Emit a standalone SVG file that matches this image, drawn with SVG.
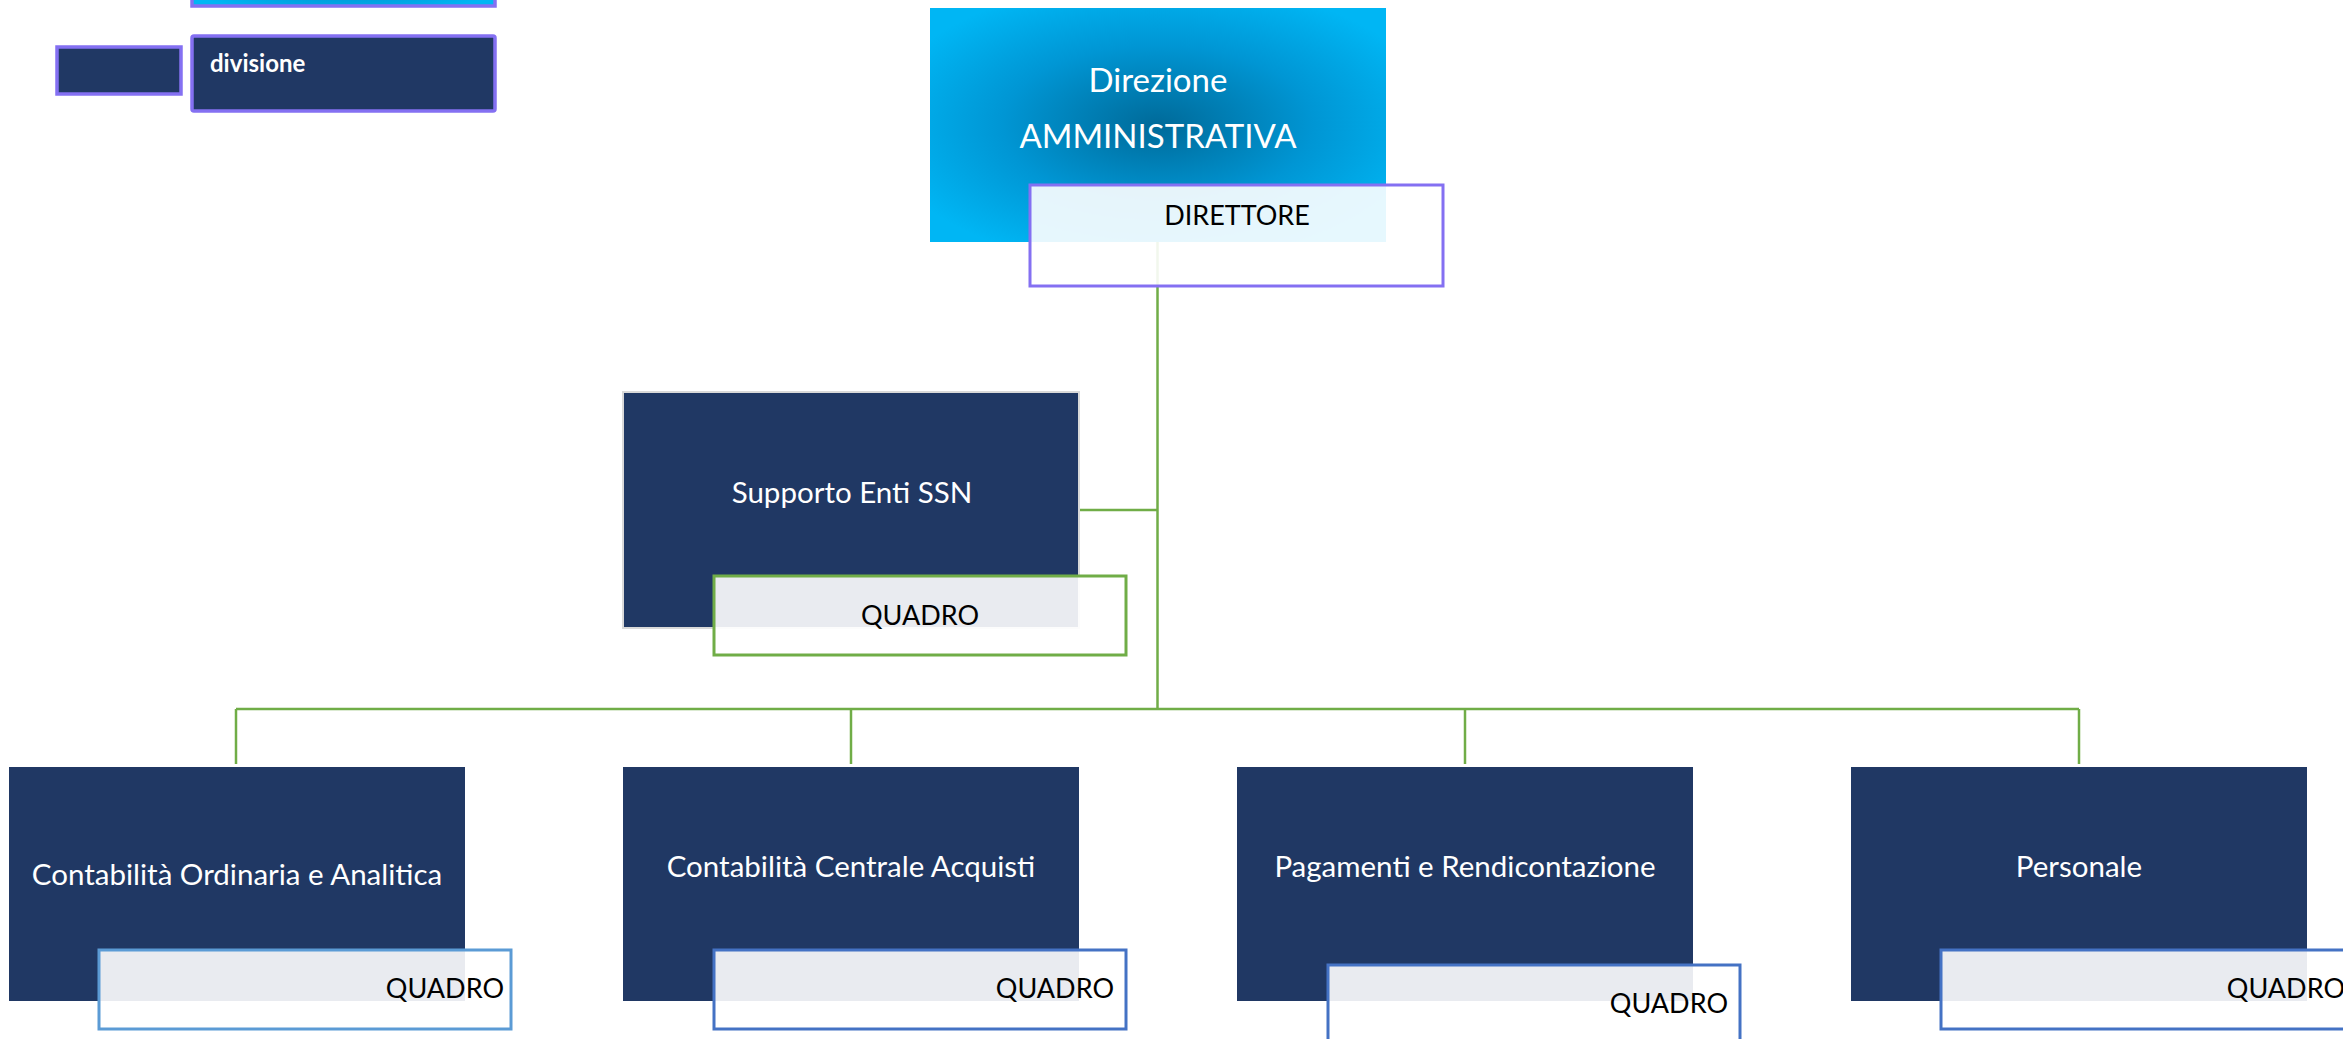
<svg xmlns="http://www.w3.org/2000/svg" width="2343" height="1039" viewBox="0 0 2343 1039">
<defs>
<radialGradient id="cyan" cx="0.5" cy="0.5" r="0.62">
<stop offset="0" stop-color="#006A99"/>
<stop offset="0.55" stop-color="#0096D4"/>
<stop offset="1" stop-color="#00B6F4"/>
</radialGradient>
<style>
.dark{fill:#203864;}
.txt{font-family:Lato,"Liberation Sans",sans-serif;}
.w{fill:#ffffff;font-size:29.5px;}
.k{fill:#000000;font-size:27px;}
.sub{fill:#ffffff;fill-opacity:0.9;stroke-width:3;}
.purple{stroke:#8470F2;}
.conn{stroke:#70AD47;stroke-width:2.5;fill:none;}
</style>
</defs>
<rect width="2343" height="1039" fill="#ffffff"/>

<g id="legend">
<rect x="192" y="-70" width="303" height="76" fill="url(#cyan)" stroke="#8470F2" stroke-width="3.5"/>
<rect x="57" y="47" width="124" height="47" class="dark" stroke="#8470F2" stroke-width="3.5"/>
<rect x="192" y="36" width="303" height="75" rx="2" class="dark" stroke="#8470F2" stroke-width="3.5"/>
<text x="210" y="72" class="txt" fill="#ffffff" font-size="24" font-weight="bold">divisione</text>
</g>

<g id="connectors">
<line class="conn" x1="1157.5" y1="242" x2="1157.5" y2="709"/>
<line class="conn" x1="1080" y1="510" x2="1157.5" y2="510"/>
<line class="conn" x1="236" y1="709" x2="2079" y2="709"/>
<line class="conn" x1="236" y1="709" x2="236" y2="764"/>
<line class="conn" x1="851" y1="709" x2="851" y2="764"/>
<line class="conn" x1="1465" y1="709" x2="1465" y2="764"/>
<line class="conn" x1="2079" y1="709" x2="2079" y2="764"/>
</g>

<g id="direzione">
<rect x="930" y="8" width="456" height="234" fill="url(#cyan)"/>
<text x="1158" y="92" class="txt w" text-anchor="middle" style="font-size:33px">Direzione</text>
<text x="1158" y="148" class="txt w" text-anchor="middle" style="font-size:33px">AMMINISTRATIVA</text>
<rect x="1030" y="185" width="413" height="101" class="sub purple"/>
<text x="1237" y="225" class="txt k" text-anchor="middle">DIRETTORE</text>
</g>

<g id="supporto">
<rect x="623" y="392" width="456" height="236" class="dark" stroke="#D9D9D9" stroke-width="2"/>
<text x="852" y="503" class="txt w" text-anchor="middle">Supporto Enti SSN</text>
<rect x="714" y="576" width="412" height="79" class="sub" stroke="#70AD47"/>
<text x="920" y="625" class="txt k" text-anchor="middle">QUADRO</text>
</g>

<g id="contabilita-ordinaria">
<rect x="9" y="767" width="456" height="234" class="dark"/>
<text x="237" y="885" class="txt w" text-anchor="middle">Contabilità Ordinaria e Analitica</text>
<rect x="99" y="950" width="412" height="79" class="sub" stroke="#5B9BD5"/>
<text x="504" y="998" class="txt k" text-anchor="end">QUADRO</text>
</g>

<g id="contabilita-centrale">
<rect x="623" y="767" width="456" height="234" class="dark"/>
<text x="851" y="877" class="txt w" text-anchor="middle">Contabilità Centrale Acquisti</text>
<rect x="714" y="950" width="412" height="79" class="sub" stroke="#4472C4"/>
<text x="1114" y="998" class="txt k" text-anchor="end">QUADRO</text>
</g>

<g id="pagamenti">
<rect x="1237" y="767" width="456" height="234" class="dark"/>
<text x="1465" y="877" class="txt w" text-anchor="middle">Pagamenti e Rendicontazione</text>
<rect x="1328" y="965" width="412" height="79" class="sub" stroke="#4472C4"/>
<text x="1728" y="1013" class="txt k" text-anchor="end">QUADRO</text>
</g>

<g id="personale">
<rect x="1851" y="767" width="456" height="234" class="dark"/>
<text x="2079" y="877" class="txt w" text-anchor="middle">Personale</text>
<rect x="1941" y="950" width="412" height="79" class="sub" stroke="#4472C4"/>
<text x="2345" y="998" class="txt k" text-anchor="end">QUADRO</text>
</g>
</svg>
